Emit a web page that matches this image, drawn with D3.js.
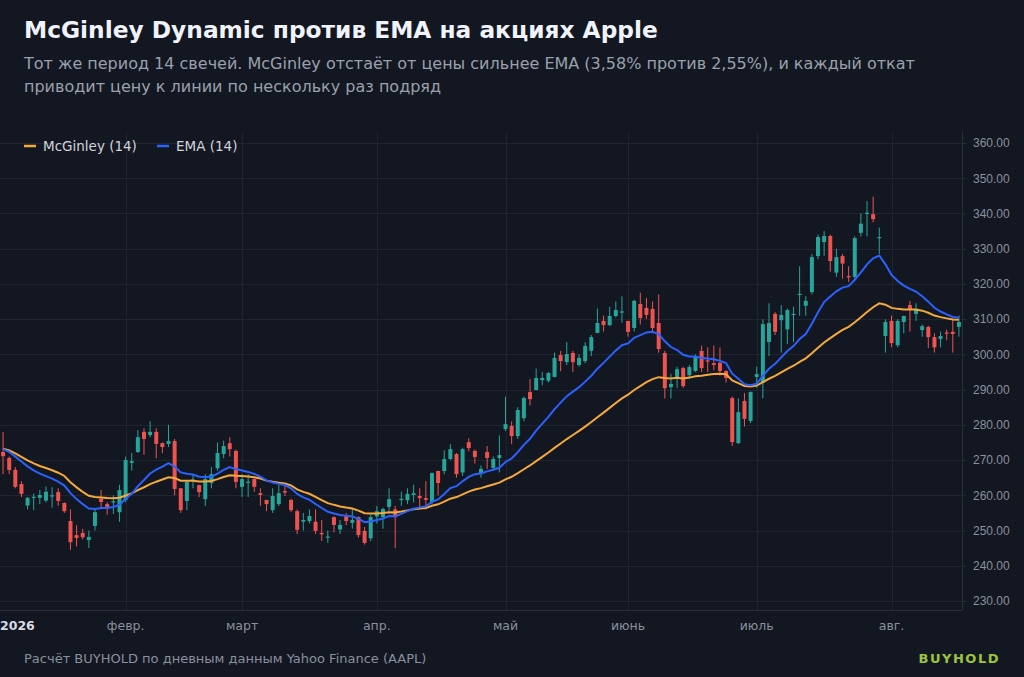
<!DOCTYPE html>
<html><head><meta charset="utf-8">
<script src="https://cdn.jsdelivr.net/npm/d3@7"></script>
<style>
html,body{margin:0;padding:0;background:#131722;}
svg{display:block;font-family:"DejaVu Sans",sans-serif;}
</style></head><body>
<svg id="c" width="1024" height="677"></svg>
<script>
const openV=[272.3,270.6,267.2,263.2,257.1,259.3,259.3,258.5,259.8,260.9,257.8,252.7,248.7,249.3,247.3,251.3,259,257.5,258,255.2,
258.7,269.2,272.3,278,277.1,278,274.8,274.6,275.4,262,258.4,264,262.9,258.9,263.5,267.7,271.7,274.8,272.6,
262.4,263.6,264.6,260.6,258.7,255.8,257.5,261.2,258.7,255.5,252.5,252.7,252.5,249.3,248.1,253.8,250.3,254.1,252.2,253.8,249.9,247.8,
254,253.8,256.7,256,258.7,258.6,260.1,259.8,259.2,258.1,266.9,266.9,270.3,271.7,266.5,275.1,272.6,266.3,272.3,267.8,270.6,
278.8,279.7,276.8,281.9,289.3,289.9,292.7,292.5,293.6,299.8,297.8,300.4,297,298.1,301,306.1,309.5,308.3,310.9,312,
309.5,307.5,314.3,313.2,312.9,308.9,300.4,290.7,293.3,296.1,294.1,295.3,301,298.3,297.5,297.6,295.3,287.6,274.8,286.8,281.1,
293.6,291.9,303.5,311.5,309.7,307.1,311.2,317,313.8,317.7,327.9,331.9,333.6,323.2,327.9,322.2,322,334.5,340,339.8,333.1,305.2,
309.5,302.6,309.2,314,311.5,306.9,307.8,304.9,304.4,306.2,306.4,307.8];
const highV=[278,271,268,264,259.5,260.5,261.5,262.5,262.3,262,258,256,251.5,250.5,250,256,261.5,258,260,263,
271,272,278.5,279,281,279,275,280,276,262,264,266,263,266,268,275,275.5,276.5,273,
266,266,264.8,262,258.5,262,263,263,259,256,255,256,256,253,250,254,253,255,256,254,251,254.5,
257,256.5,262,257,261,262,263,262,264,266.5,267,272.8,274.5,272,273.5,276.2,273,268.5,274,271,277,
288,281,285,288,293,296,295,295,300.5,301,303.5,301,300,303.5,305.5,313,311,313.5,315,316.5,
309.5,315.5,317.5,316,315,317,301,294.5,296.5,296.5,297,300,302.5,302,302.5,302,295.5,288,287.5,289,289.5,
296.5,310,314.5,312,314,313,313.5,325,316.5,328.5,334,335,334,330,328.5,325,333.5,340,343.5,344.8,336,310,
311,310,311,315.2,314.5,308.5,308.1,306,306.5,307,310,311];
const lowV=[266,266,262,259.5,256,255.8,257.5,258,256.5,257,255,244.5,245.5,247.5,245,250,256.5,254.5,254.7,252.5,
258,267,272,271.5,276.5,270.5,272,273.7,260,255,255.8,262,259.5,257,262,267,270.5,271,262,
259.5,259.5,261,257,255.5,255,257,259.8,255.2,249,250,252,249,247,246.5,249.5,249,251.5,250.5,248,246,247,
252,250.5,255.5,245,257,257.5,258,256,256,257.5,260,266,270,265,265.5,272.5,269,265,267.5,267,266.5,
278.2,274.5,276,281,285.5,289.8,291.2,292,293.5,295.2,297,295,296.5,297.5,299.5,306,306.5,308,310.5,309,
305,306.5,308.5,310,306,300.5,287.5,287.5,290.5,290.5,293,295,295,295,295.5,294,292,274,274.6,279.5,280.5,
290.5,287.5,299.5,305.5,300.5,303,303.5,311,311,317,327,328,323.5,322,321.5,320.5,321,333.5,333.5,337.5,328.5,300.5,
302,302,306,306.5,309.5,305,301.8,300.5,302,304,300.5,305];
const closeV=[271.1,267.2,262.4,260.4,259.3,259.6,260.1,261,260,258.4,255.5,246.7,247.9,248.1,248.2,255.2,258.1,256.7,258.3,261.5,
270,269.7,276.5,276,278,274.6,273.7,275.4,261.8,255.8,263.8,264.5,260.9,264.6,266,272,274,273.1,263.8,
264.6,263.9,262.4,260.1,257.5,259.8,260.6,260.8,255.8,250.2,253,254.1,249.9,249,248.3,251.6,251.6,252.7,253,248.7,246.5,253.8,
255.5,256.1,258.9,253.8,259,260.4,260.6,259.2,258.7,266.3,263.5,270.3,273.1,266,273.1,273.4,270.9,267.5,270.6,270.3,271.4,
280.2,276.8,284.2,287.6,287.3,293.3,293.3,294.7,299,298.1,300.1,297.8,299,302.4,304.9,308.9,308.3,310.9,312.6,312.2,
306.4,315.2,310.3,311.2,307.5,301.5,290.4,291.6,295.8,291,296.4,299.3,296.1,298,297,295.3,293.3,275.1,283.6,281.7,289.3,
294.4,308.6,308.9,306.4,311.2,312.6,311.5,317.2,315.2,327.6,333.3,333.6,326.5,327.6,325.8,322,333,337.1,340.2,338.4,333.3,309.2,
303.2,309.5,310.9,312.6,312.9,308,304.9,302,305.2,306,305.8,309.2];
const yTicks=[230,240,250,260,270,280,290,300,310,320,330,340,350,360];
const monthLabels=["2026","февр.","март","апр.","май","июнь","июль","авг."];
const holidays=["2026-01-01","2026-01-19","2026-02-16","2026-04-03","2026-05-25","2026-06-19","2026-07-03"];
const N=14;

const dates=[];
for(let d=new Date(2026,0,1);dates.length<closeV.length;d=d3.timeDay.offset(d,1)){
  const w=d.getDay(); const s=d3.timeFormat("%Y-%m-%d")(d);
  if(w!==0&&w!==6&&!holidays.includes(s)) dates.push(new Date(d));
}
const data=dates.map((d,i)=>({d,i,o:openV[i],h:highV[i],l:lowV[i],c:closeV[i]}));
const ema=[],mg=[];
let e=273.4,m=273.4;
data.forEach((p,i)=>{
  e=e+(p.c-e)*2/(N+1); ema.push(e);
  m=m+(p.c-m)/(N*Math.pow(p.c/m,4)); mg.push(m);
});

const svg=d3.select("#c");
const W=962, pTop=132, pBot=610;
const x=d3.scaleBand().domain(data.map(p=>p.i)).range([0,W]).paddingInner(0.35).paddingOuter(0.175);
const y=d3.scaleLinear().domain([230,360]).range([601,143]);
const cx=i=>x(i)+x.bandwidth()/2;

svg.append("g").selectAll("line").data(yTicks).join("line")
 .attr("x1",0).attr("x2",W).attr("y1",d=>Math.round(y(d))+0.5).attr("y2",d=>Math.round(y(d))+0.5)
 .attr("stroke","#1f2430");
const firsts=[];
data.forEach((p,i)=>{ if(i===0||p.d.getMonth()!==data[i-1].d.getMonth()) firsts.push(i); });
svg.append("g").selectAll("line").data(firsts.slice(1)).join("line")
 .attr("x1",d=>Math.round(cx(d))+0.5).attr("x2",d=>Math.round(cx(d))+0.5).attr("y1",pTop).attr("y2",pBot)
 .attr("stroke","#1f2430");
svg.append("line").attr("x1",W+0.5).attr("x2",W+0.5).attr("y1",pTop).attr("y2",pBot).attr("stroke","#2a2e39");
svg.append("line").attr("x1",0).attr("x2",W).attr("y1",pBot+0.5).attr("y2",pBot+0.5).attr("stroke","#2a2e39");

const ya=d3.axisRight(y).tickValues(yTicks).tickFormat(d3.format(".2f")).tickSize(4);
const yg=svg.append("g").attr("transform",`translate(${W},0)`).call(ya);
yg.select(".domain").remove();
yg.selectAll("line").attr("stroke","#2a2e39");
yg.selectAll("text").attr("fill","#8a909c").attr("font-size",12).attr("x",11);

svg.append("g").selectAll("text").data(firsts).join("text")
 .attr("x",(d,k)=>k===0?0:cx(d)).attr("y",630)
 .attr("text-anchor",(d,k)=>k===0?"start":"middle")
 .attr("fill",(d,k)=>k===0?"#d8dbe2":"#8a909c").attr("font-weight",(d,k)=>k===0?"bold":"normal")
 .attr("font-size",12.5).text((d,k)=>monthLabels[k]);

const up="#26a69a", dn="#ef5350";
const cg=svg.append("g").selectAll("g").data(data).join("g");
cg.append("line").attr("x1",p=>cx(p.i)).attr("x2",p=>cx(p.i)).attr("y1",p=>y(p.h)).attr("y2",p=>y(p.l))
 .attr("stroke",p=>p.c>=p.o?up:dn).attr("stroke-width",1);
cg.append("rect").attr("x",p=>x(p.i)).attr("width",x.bandwidth())
 .attr("y",p=>y(Math.max(p.o,p.c))).attr("height",p=>Math.max(1.2,Math.abs(y(p.o)-y(p.c))))
 .attr("fill",p=>p.c>=p.o?up:dn);

const ln=d3.line().x((v,i)=>cx(i)).y(v=>y(v));
svg.append("path").datum(mg).attr("d",ln).attr("fill","none").attr("stroke","#f5a93b").attr("stroke-width",2);
svg.append("path").datum(ema).attr("d",ln).attr("fill","none").attr("stroke","#2962ff").attr("stroke-width",2);

const lg=svg.append("g").attr("font-size",13.5).attr("fill","#d1d4dc");
lg.append("line").attr("x1",24).attr("x2",36).attr("y1",146).attr("y2",146).attr("stroke","#f5a93b").attr("stroke-width",2.5);
lg.append("text").attr("x",43).attr("y",151).text("McGinley (14)");
lg.append("line").attr("x1",157).attr("x2",169).attr("y1",146).attr("y2",146).attr("stroke","#2962ff").attr("stroke-width",2.5);
lg.append("text").attr("x",176).attr("y",151).text("EMA (14)");

svg.append("text").attr("x",24).attr("y",38).attr("fill","#f0f3fa").attr("font-size",23.3).attr("font-weight","bold")
 .text("McGinley Dynamic против EMA на акциях Apple");
svg.append("text").attr("x",24).attr("y",69).attr("fill","#9aa0ac").attr("font-size",16)
 .text("Тот же период 14 свечей. McGinley отстаёт от цены сильнее EMA (3,58% против 2,55%), и каждый откат");
svg.append("text").attr("x",24).attr("y",92).attr("fill","#9aa0ac").attr("font-size",16)
 .text("приводит цену к линии по нескольку раз подряд");
svg.append("text").attr("x",24).attr("y",663).attr("fill","#8a909c").attr("font-size",13)
 .text("Расчёт BUYHOLD по дневным данным Yahoo Finance (AAPL)");
svg.append("text").attr("x",1000).attr("y",663).attr("text-anchor","end").attr("fill","#9bc53d").attr("font-size",13)
 .attr("font-weight","bold").attr("letter-spacing",1.5).text("BUYHOLD");
</script></body></html>
